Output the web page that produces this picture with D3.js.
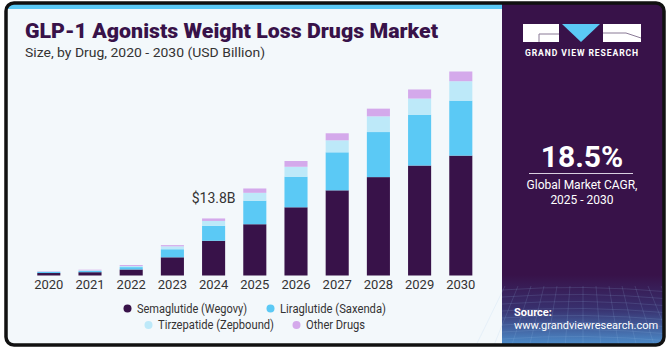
<!DOCTYPE html>
<html>
<head>
<meta charset="utf-8">
<script src="https://cdn.jsdelivr.net/npm/d3@7"></script>
<style>
  body { margin: 0; background: #fff; }
  svg { display: block; }
</style>
</head>
<body>
<div id="chart"></div>
<script>
// Chart data (USD Billion)
const years = ["2020", "2021", "2022", "2023", "2024", "2025", "2026", "2027", "2028", "2029", "2030"];
const semaglutide = [0.6, 0.8, 1.45, 4.4, 8.4, 12.4, 16.5, 20.6, 23.8, 26.6, 29.0];
const liraglutide = [0.25, 0.3, 0.58, 1.95, 3.6, 5.7, 7.4, 9.2, 10.9, 12.3, 13.3];
const tirzepatide = [0.12, 0.15, 0.25, 0.7, 1.2, 1.9, 2.4, 2.9, 3.8, 3.9, 4.7];
const otherDrugs = [0.1, 0.15, 0.25, 0.3, 0.6, 1.05, 1.4, 1.7, 1.86, 2.2, 2.35];
const seriesNames = ["Semaglutide (Wegovy)", "Liraglutide (Saxenda)", "Tirzepatide (Zepbound)", "Other Drugs"];
const seriesColors = ["#381249", "#5bc9f5", "#bde9f9", "#d4a9eb"];

const width = 670;
const height = 350;

const svg = d3.select("#chart")
  .append("svg")
  .attr("width", width)
  .attr("height", height);

const defs = svg.append("defs");
const grad = defs.append("linearGradient")
  .attr("id", "bottomGrad")
  .attr("x1", 0).attr("y1", 0).attr("x2", 0).attr("y2", 1);
grad.append("stop").attr("offset", "0%").attr("stop-color", "#381249");
grad.append("stop").attr("offset", "45%").attr("stop-color", "#38306e");
grad.append("stop").attr("offset", "100%").attr("stop-color", "#4f9ad8");

defs.append("clipPath").attr("id", "frameClip")
  .append("rect")
  .attr("x", 6).attr("y", 3).attr("width", 658).attr("height", 342).attr("rx", 8);

// Panels
const panels = svg.append("g").attr("clip-path", "url(#frameClip)");
panels.append("rect")
  .attr("x", 0).attr("y", 0).attr("width", 502).attr("height", height)
  .attr("fill", "#f3f8fb");
panels.append("rect")
  .attr("x", 0).attr("y", 3).attr("width", 502).attr("height", 6)
  .attr("fill", "#5bc9f5");
panels.append("rect")
  .attr("x", 502).attr("y", 0).attr("width", 170).attr("height", height)
  .attr("fill", "#381249");
panels.append("rect")
  .attr("x", 502).attr("y", 275).attr("width", 170).attr("height", 75)
  .attr("fill", "url(#bottomGrad)");

// faint grid texture in the bottom of the side panel
const grid = panels.append("g")
  .attr("stroke", "#9fc4ec")
  .attr("stroke-opacity", 0.22)
  .attr("stroke-width", 0.7)
  .attr("fill", "none");
d3.range(0, 9).forEach((i) => {
  const yy = 290 + i * 7;
  grid.append("path").attr("d", `M502,${yy} Q583,${yy - 6} 670,${yy + 2}`);
});
d3.range(0, 14).forEach((i) => {
  const xx = 505 + i * 13;
  grid.append("path").attr("d", `M${xx},286 L${xx + (xx - 583) * 0.4},350`);
});

// Frame
svg.append("rect")
  .attr("x", 6).attr("y", 3).attr("width", 658).attr("height", 342).attr("rx", 8)
  .attr("fill", "none")
  .attr("stroke", "#111")
  .attr("stroke-width", 3.5);

// Title
svg.append("text")
  .attr("x", 25).attr("y", 38)
  .attr("font-family", "Roboto, sans-serif")
  .attr("font-weight", 900)
  .attr("font-size", 19.5)
  .attr("textLength", 413)
  .attr("lengthAdjust", "spacingAndGlyphs")
  .attr("fill", "#381249")
  .text("GLP-1 Agonists Weight Loss Drugs Market");

svg.append("text")
  .attr("x", 25).attr("y", 57)
  .attr("font-family", "Roboto, sans-serif")
  .attr("font-size", 13)
  .attr("textLength", 240)
  .attr("lengthAdjust", "spacingAndGlyphs")
  .attr("fill", "#333")
  .text("Size, by Drug, 2020 - 2030 (USD Billion)");

// Scales
const x = d3.scaleBand()
  .domain(years)
  .range([28.2, 481.4])
  .paddingInner(0.44)
  .paddingOuter(0.22);

const y = d3.scaleLinear()
  .domain([0, 50])
  .range([275.5, 68.8]);

// Stack
const tableData = years.map((yr, i) => ({
  year: yr,
  s0: semaglutide[i],
  s1: liraglutide[i],
  s2: tirzepatide[i],
  s3: otherDrugs[i],
}));
const stack = d3.stack().keys(["s0", "s1", "s2", "s3"]);
const layers = stack(tableData);

svg.append("g")
  .selectAll("g")
  .data(layers)
  .join("g")
  .attr("fill", (d, i) => seriesColors[i])
  .selectAll("rect")
  .data((d) => d)
  .join("rect")
  .attr("x", (d) => x(d.data.year))
  .attr("y", (d) => y(d[1]))
  .attr("width", x.bandwidth())
  .attr("height", (d) => y(d[0]) - y(d[1]));

// x-axis
const xAxis = svg.append("g")
  .attr("transform", `translate(0, ${y(0)})`)
  .call(d3.axisBottom(x).tickSize(0).tickPadding(4));
xAxis.select(".domain").remove();
xAxis.selectAll("text")
  .attr("font-family", "Roboto, sans-serif")
  .attr("font-size", 13)
  .attr("fill", "#333");

// Annotation for 2024
const total2024 = semaglutide[4] + liraglutide[4] + tirzepatide[4] + otherDrugs[4];
svg.append("text")
  .attr("x", x("2024") + x.bandwidth() / 2)
  .attr("y", 203)
  .attr("text-anchor", "middle")
  .attr("font-family", "Roboto, sans-serif")
  .attr("font-size", 14)
  .attr("fill", "#333")
  .text(`$${total2024.toFixed(1)}B`);

// Legend
const legendItems = [
  { cx: 127.5, cy: 308.5, w: 110 },
  { cx: 270.5, cy: 308.5, w: 106 },
  { cx: 148.5, cy: 325, w: 116 },
  { cx: 296.5, cy: 325, w: 59 },
];
const legend = svg.append("g");
legendItems.forEach((p, i) => {
  legend.append("circle")
    .attr("cx", p.cx).attr("cy", p.cy).attr("r", 4)
    .attr("fill", seriesColors[i]);
  legend.append("text")
    .attr("x", p.cx + 9.5).attr("y", p.cy + 4)
    .attr("font-family", "Roboto, sans-serif")
    .attr("font-size", 12)
    .attr("textLength", p.w)
    .attr("lengthAdjust", "spacingAndGlyphs")
    .attr("fill", "#333")
    .text(seriesNames[i]);
});

// Side panel: logo
const logo = svg.append("g");
logo.append("rect").attr("x", 523).attr("y", 24).attr("width", 36).attr("height", 18).attr("fill", "#fff");
logo.append("path").attr("d", "M539,42 V34 H559").attr("stroke", "#8a7a96").attr("stroke-width", 1).attr("fill", "none");
logo.append("path").attr("d", "M562,24 L600,24 L581,42 Z").attr("fill", "#5bc9f5");
logo.append("rect").attr("x", 603).attr("y", 24).attr("width", 38).attr("height", 18).attr("fill", "#fff");
logo.append("path").attr("d", "M603,33 L626,33 L641,38").attr("stroke", "#8a7a96").attr("stroke-width", 1).attr("fill", "none");
logo.append("text")
  .attr("x", 582).attr("y", 56)
  .attr("text-anchor", "middle")
  .attr("font-family", "Roboto, sans-serif")
  .attr("font-weight", 700)
  .attr("font-size", 8.6)
  .attr("letter-spacing", 0.9)
  .attr("fill", "#fff")
  .text("GRAND VIEW RESEARCH");

// Side panel: CAGR
svg.append("text")
  .attr("x", 582).attr("y", 167)
  .attr("text-anchor", "middle")
  .attr("font-family", "Roboto, sans-serif")
  .attr("font-weight", 700)
  .attr("font-size", 30)
  .attr("fill", "#fff")
  .text("18.5%");
svg.append("line")
  .attr("x1", 529).attr("x2", 633).attr("y1", 173.5).attr("y2", 173.5)
  .attr("stroke", "#d9d0e0").attr("stroke-width", 1);
svg.append("text")
  .attr("x", 582).attr("y", 189)
  .attr("text-anchor", "middle")
  .attr("font-family", "Roboto, sans-serif")
  .attr("font-size", 12)
  .attr("fill", "#fff")
  .text("Global Market CAGR,");
svg.append("text")
  .attr("x", 582).attr("y", 204)
  .attr("text-anchor", "middle")
  .attr("font-family", "Roboto, sans-serif")
  .attr("font-size", 12)
  .attr("fill", "#fff")
  .text("2025 - 2030");

// Source
svg.append("text")
  .attr("x", 514).attr("y", 316)
  .attr("font-family", "Roboto, sans-serif")
  .attr("font-weight", 700)
  .attr("font-size", 11)
  .attr("fill", "#fff")
  .text("Source:");
svg.append("text")
  .attr("x", 514).attr("y", 329)
  .attr("font-family", "Roboto, sans-serif")
  .attr("font-size", 11)
  .attr("fill", "#fff")
  .text("www.grandviewresearch.com");
</script>
</body>
</html>
